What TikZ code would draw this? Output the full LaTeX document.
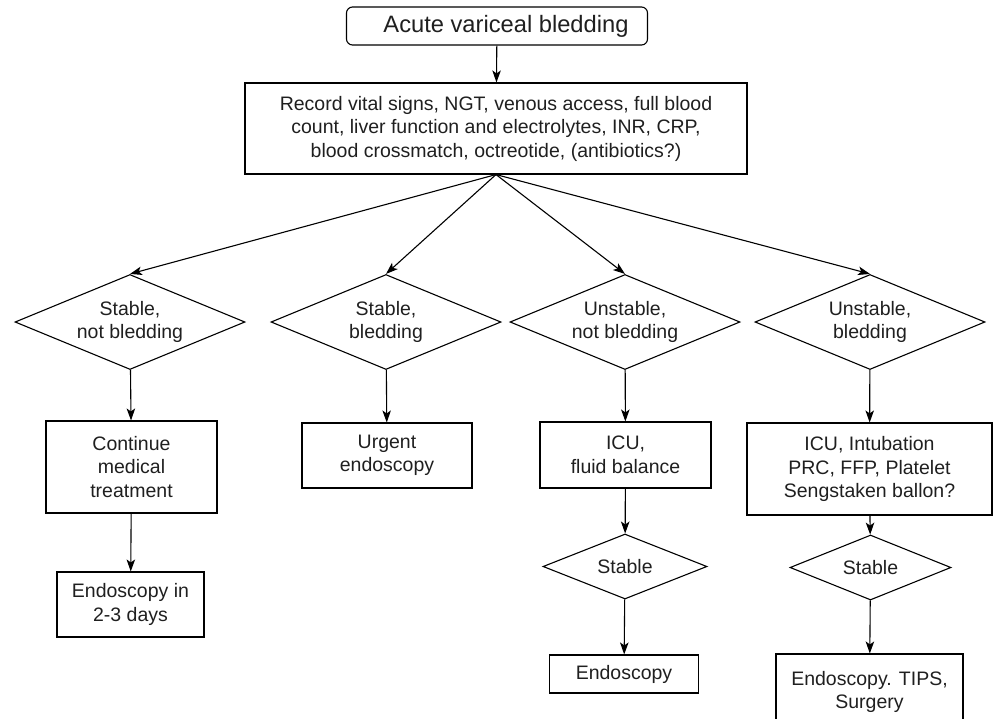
\documentclass[tikz,border=0pt]{standalone}
\usepackage{fontspec}
\setmainfont{Liberation Sans}
\usetikzlibrary{shapes.geometric,arrows.meta}
\begin{document}
\begin{tikzpicture}[x=1pt,y=-1pt,->,
    >={Stealth[length=12pt,width=8.5pt,inset=3pt]},
    line width=1.1pt,
    every node/.style={font=\fontsize{19.5}{23.5}\selectfont,align=center,inner sep=0pt,text=black!88},
    proc/.style={draw,rectangle,-},
    cond/.style={draw,diamond,aspect=2.5,minimum width=230pt,minimum height=95pt,-},
    head/.style={draw,rectangle,rounded corners=6pt,-}]
      \useasboundingbox (0,0) rectangle (993,718);
      \node[head,minimum width=301pt,minimum height=38pt,font=\fontsize{23.7}{28}\selectfont] (start) at (497,26) {\hspace*{18pt}Acute variceal bledding};
      \node[proc,minimum width=502pt,minimum height=91pt] (record) at (496,128.5)
        {Record vital signs, NGT, venous access, full blood\\ count, liver function and electrolytes, INR, CRP,\\ blood crossmatch, octreotide, (antibiotics?)};
      \node[cond] (sn) at (130,322) {Stable,\\ not bledding};
      \node[cond] (sb) at (386,322) {Stable,\\ bledding};
      \node[cond] (un) at (625,322) {Unstable,\\ not bledding};
      \node[cond] (ub) at (870,322) {Unstable,\\ bledding};
      \node[proc,minimum width=171pt,minimum height=92pt] (cont) at (131.5,467) {Continue\\ medical\\ treatment};
      \node[proc,minimum width=147pt,minimum height=65pt] (endo23) at (130.5,604.5) {Endoscopy in\\ 2-3 days};
      \node[proc,minimum width=170pt,minimum height=65pt] (urgent) at (387,455.5) {Urgent\\ endoscopy};
      \node[proc,minimum width=171pt,minimum height=66pt] (icu) at (625.5,455) {ICU,\\ fluid balance};
      \node[cond,minimum width=164pt,minimum height=65pt] (st1) at (625,566.5) {Stable};
      \node[proc,minimum width=149pt,minimum height=38pt] (endo) at (624,674) {Endoscopy};
      \node[proc,minimum width=245pt,minimum height=92pt] (icuint) at (869.5,469) {ICU, Intubation\\ PRC, FFP, Platelet\\ Sengstaken ballon?};
      \node[cond,minimum width=161pt,minimum height=65pt] (st2) at (870.5,567.5) {Stable};
      \node[proc,minimum width=187pt,minimum height=76pt] (tips) at (869.5,692) {Endoscopy. TIPS,\\ Surgery};
      \draw (start) -- (record);
      \draw (record.south) -- (sn.north);
      \draw (record.south) -- (sb.north);
      \draw (record.south) -- (un.north);
      \draw (record.south) -- (ub.north);
      \draw (sn) -- (cont);
      \draw (cont) -- (endo23);
      \draw (sb) -- (urgent);
      \draw (un) -- (icu);
      \draw (icu) -- (st1);
      \draw (st1) -- (endo);
      \draw (ub) -- (icuint);
      \draw (icuint) -- (st2);
      \draw (st2) -- (tips);
    \end{tikzpicture}
\end{document}
